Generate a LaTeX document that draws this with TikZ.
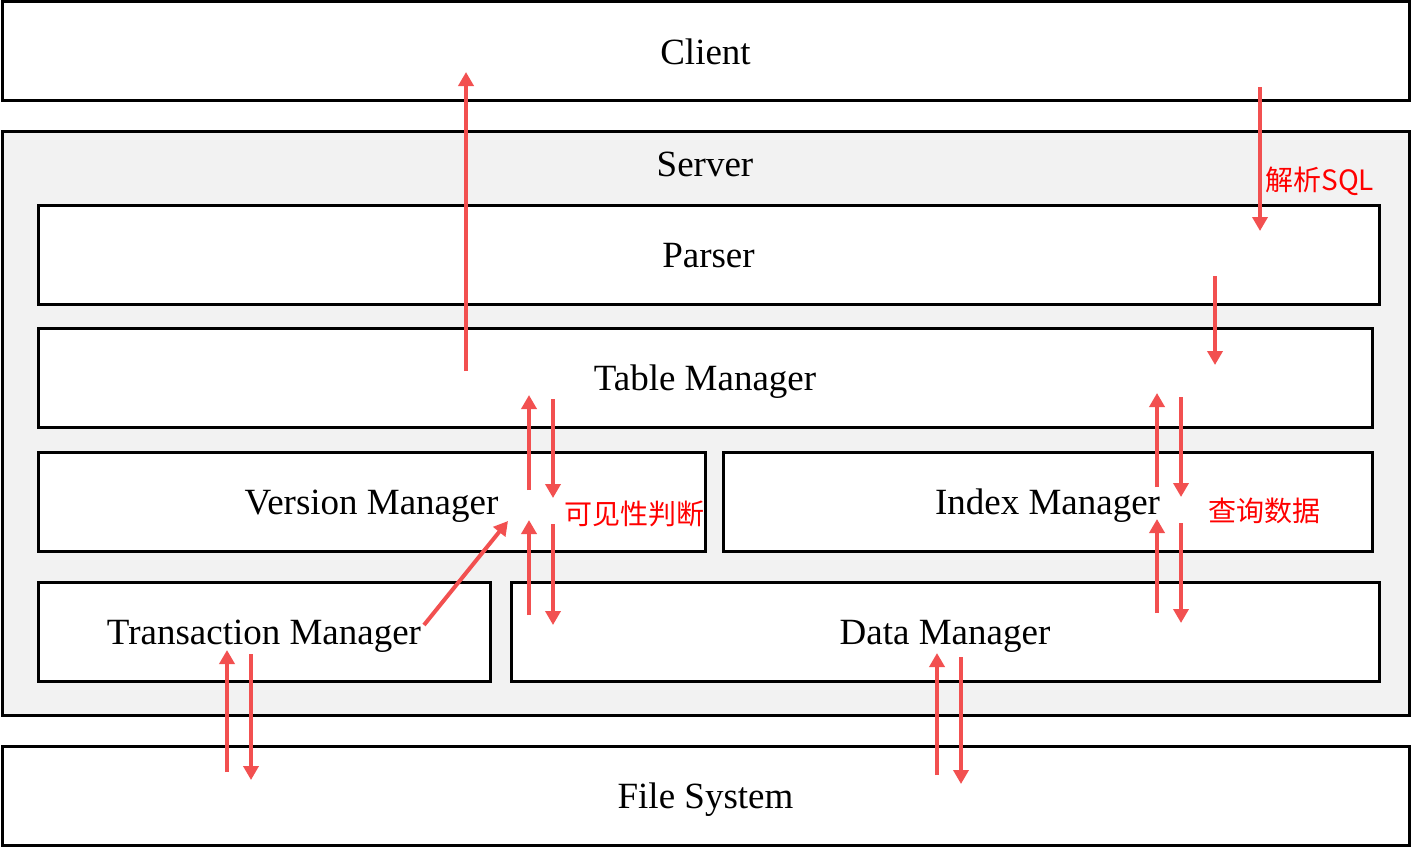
\documentclass[tikz,border=0pt]{standalone}
\usepackage{fontspec}
\setmainfont{Liberation Serif}
\newfontfamily\cjk{Noto Sans CJK SC}
\usetikzlibrary{arrows.meta}
\definecolor{arrowred}{RGB}{242,80,80}
\definecolor{servergray}{RGB}{242,242,242}
\tikzset{
  layer/.style={draw, line width=1.5pt, fill=white, inner sep=0pt,
    minimum height=49.5pt, text height=17pt, text depth=4pt,
    font=\fontsize{18.5}{22}\selectfont},
  flow/.style={draw=arrowred, line width=2pt, -{Triangle[width=7.5pt,length=7pt]}},
  note/.style={text=red, font=\cjk\fontsize{14}{16}\selectfont, inner sep=0pt, anchor=west}
}
\begin{document}
\begin{tikzpicture}[x=0.5pt, y=-0.5pt]
  % page size in pixels of the reference
  \useasboundingbox (0,0) rectangle (1411,847);

  % layers
  \node[layer, minimum width=703.5pt] (client) at (705.5,51) {Client};
  \node[layer, fill=servergray, minimum width=703.5pt, minimum height=292pt] (server) at (705.5,423) {};
  \node[font=\fontsize{18.5}{22}\selectfont] (serverlabel) at (705,164) {Server};
  \node[layer, minimum width=670.5pt] (parser) at (708.5,254.5) {Parser};
  \node[layer, minimum width=667pt] (table) at (705,377.5) {Table Manager};
  \node[layer, minimum width=333.5pt] (version) at (371.5,501.5) {Version Manager};
  \node[layer, minimum width=324.5pt] (index) at (1047.5,501.5) {Index Manager};
  \node[layer, minimum width=226pt] (trans) at (264,631.5) {Transaction Manager};
  \node[layer, minimum width=434pt] (data) at (945,631.5) {Data Manager};
  \node[layer, minimum width=703.5pt] (fs) at (705.5,795.5) {File System};

  % arrow ends
  \coordinate (resA) at (466,371);  \coordinate (resB) at (466,72);
  \coordinate (sqlA) at (1260,87);  \coordinate (sqlB) at (1260,231);
  \coordinate (ptA) at (1215,276);  \coordinate (ptB) at (1215,365);
  \coordinate (tvA) at (529,490);   \coordinate (tvB) at (529,395);
  \coordinate (tvC) at (553,399);   \coordinate (tvD) at (553,498);
  \coordinate (vdA) at (529,615);   \coordinate (vdB) at (529,520);
  \coordinate (vdC) at (553,524);   \coordinate (vdD) at (553,625);
  \coordinate (txA) at (424,625);   \coordinate (txB) at (508,521);
  \coordinate (tiA) at (1157,487);  \coordinate (tiB) at (1157,393);
  \coordinate (tiC) at (1181,397);  \coordinate (tiD) at (1181,497);
  \coordinate (idA) at (1157,613);  \coordinate (idB) at (1157,519);
  \coordinate (idC) at (1181,523);  \coordinate (idD) at (1181,623);
  \coordinate (tfA) at (227,772);   \coordinate (tfB) at (227,650);
  \coordinate (tfC) at (251,654);   \coordinate (tfD) at (251,780);
  \coordinate (dfA) at (937,775);   \coordinate (dfB) at (937,653);
  \coordinate (dfC) at (961,657);   \coordinate (dfD) at (961,784);

  \draw[flow] (resA) -- (resB);
  \draw[flow] (sqlA) -- (sqlB);
  \draw[flow] (ptA) -- (ptB);
  \draw[flow] (tvA) -- (tvB);
  \draw[flow] (tvC) -- (tvD);
  \draw[flow] (vdA) -- (vdB);
  \draw[flow] (vdC) -- (vdD);
  \draw[flow] (txA) -- (txB);
  \draw[flow] (tiA) -- (tiB);
  \draw[flow] (tiC) -- (tiD);
  \draw[flow] (idA) -- (idB);
  \draw[flow] (idC) -- (idD);
  \draw[flow] (tfA) -- (tfB);
  \draw[flow] (tfC) -- (tfD);
  \draw[flow] (dfA) -- (dfB);
  \draw[flow] (dfC) -- (dfD);

  % labels
  \node[note] (sqlnote) at (1265,181) {解析SQL};
  \node[note] (visnote) at (564,514) {可见性判断};
  \node[note] (qrynote) at (1208,511) {查询数据};
\end{tikzpicture}
\end{document}
